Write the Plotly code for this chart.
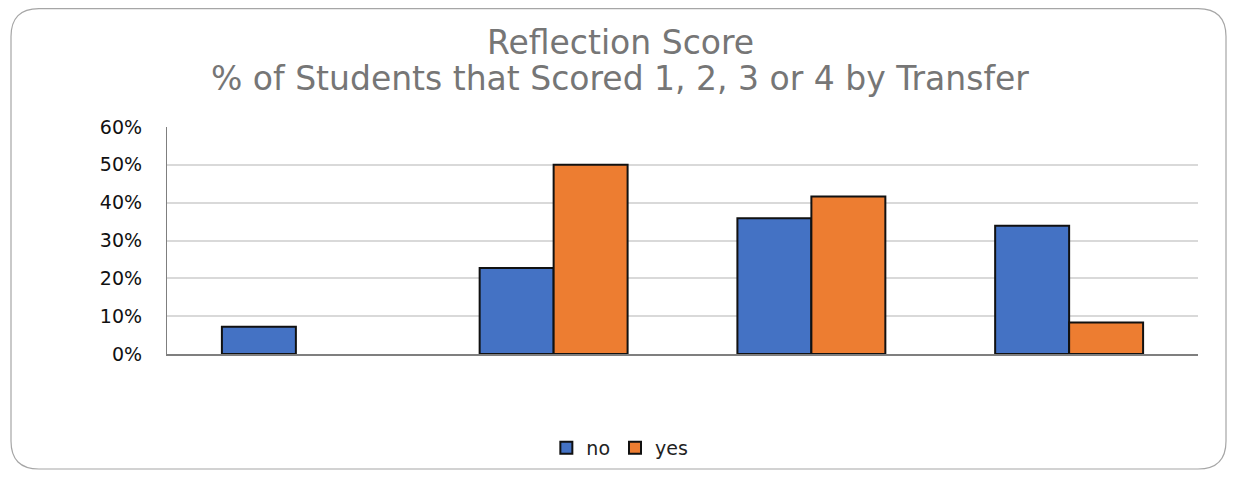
import plotly.graph_objects as go

categories = ["1", "2", "3", "4"]
no_vals = [0.072, 0.227, 0.359, 0.339]
yes_vals = [None, 0.50, 0.416, 0.083]
y_ticks = [0, 0.1, 0.2, 0.3, 0.4, 0.5, 0.6]
y_tick_text = ["0%", "10%", "20%", "30%", "40%", "50%", "60%"]
title_lines = ["Reflection Score", "% of Students that Scored 1, 2, 3 or 4 by Transfer"]

OFF = 8  # default page body margin
W, H = 1219, 462
L, R, T, B = 167, 1198, 127, 354  # plot area in page pixels
MB = 0
PAPER_BOTTOM = OFF + H - MB  # page y of paper y=0
PAPER_H = PAPER_BOTTOM - T

def px2paper(x, y):
    return (x - L) / (R - L), (PAPER_BOTTOM - y) / PAPER_H

def rounded_rect(x0, y0, x1, y1, r):
    def P(x, y):
        px, py = px2paper(x, y)
        return f"{px:.5f},{py:.5f}"
    path = f"M {P(x0 + r, y0)} L {P(x1 - r, y0)} Q {P(x1, y0)} {P(x1, y0 + r)} "
    path += f"L {P(x1, y1 - r)} Q {P(x1, y1)} {P(x1 - r, y1)} "
    path += f"L {P(x0 + r, y1)} Q {P(x0, y1)} {P(x0, y1 - r)} "
    path += f"L {P(x0, y0 + r)} Q {P(x0, y0)} {P(x0 + r, y0)} Z"
    return path

FONT = "DejaVu Sans, Open Sans, sans-serif"

fig = go.Figure()
fig.add_trace(go.Bar(x=categories, y=no_vals, name="no",
                     marker=dict(color="#4472C4", line=dict(color="#111111", width=2))))
fig.add_trace(go.Bar(x=categories, y=yes_vals, name="yes",
                     marker=dict(color="#ED7D31", line=dict(color="#111111", width=2))))

tx, ty1 = px2paper(620, 42)
_, ty2 = px2paper(620, 78)
lx, ly = px2paper(625, 448)
_, dom0 = px2paper(0, B)

fig.update_layout(
    width=W, height=H, autosize=False,
    margin=dict(l=L - OFF, r=W - (R - OFF), t=T - OFF, b=MB, autoexpand=False),
    paper_bgcolor="white", plot_bgcolor="white",
    barmode="group", bargap=0.426, bargroupgap=0,
    font=dict(family=FONT, color="#222"),
    showlegend=True,
    legend=dict(orientation="h", x=lx - 0.005, xanchor="center", y=ly, yanchor="middle",
                font=dict(size=19, color="#222", family=FONT), traceorder="normal",
                itemwidth=30),
    annotations=[
        dict(text=title_lines[0], x=tx, y=ty1, xref="paper", yref="paper",
             xanchor="center", yanchor="middle", showarrow=False,
             font=dict(family=FONT, size=33, color="#767676")),
        dict(text=title_lines[1], x=tx, y=ty2, xref="paper", yref="paper",
             xanchor="center", yanchor="middle", showarrow=False,
             font=dict(family=FONT, size=33, color="#767676")),
    ],
    shapes=[dict(type="path", xref="paper", yref="paper",
                 path=rounded_rect(11, 8.6, 1226, 469, 28),
                 line=dict(color="#a6a6a6", width=1.2), layer="below")],
)
fig.update_xaxes(showticklabels=False, showline=True, linecolor="#7f7f7f", linewidth=1.5,
                 ticks="", showgrid=False, fixedrange=True)
fig.update_yaxes(domain=[dom0, 1], range=[0, 0.6], tickvals=y_ticks, ticktext=y_tick_text,
                 showgrid=True, gridcolor="#d9d9d9", gridwidth=1.5,
                 showline=True, linecolor="#7f7f7f", linewidth=1.2, zeroline=False,
                 ticks="", ticklabelstandoff=20,
                 tickfont=dict(size=19, color="#111", family=FONT))

fig.write_html("out.html")
